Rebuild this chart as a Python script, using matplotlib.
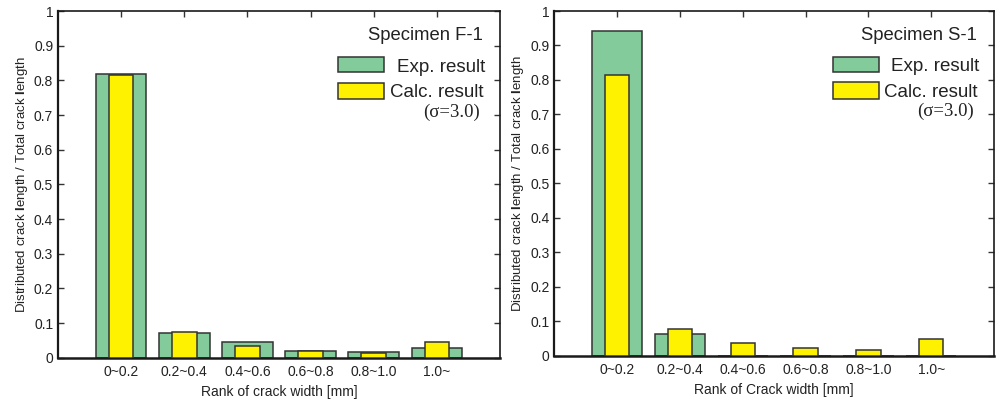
import matplotlib
matplotlib.use("Agg")
import matplotlib.pyplot as plt
from matplotlib.patches import Rectangle

plt.rcParams['font.family'] = ['Liberation Sans', 'DejaVu Sans']
plt.rcParams['mathtext.fontset'] = 'custom'
plt.rcParams['mathtext.rm'] = 'Liberation Sans'
plt.rcParams['mathtext.bf'] = 'Liberation Sans:bold'

categories = ['0~0.2', '0.2~0.4', '0.4~0.6', '0.6~0.8', '0.8~1.0', '1.0~']
exp_f1 = [0.817, 0.072, 0.046, 0.019, 0.017, 0.029]
calc_f1 = [0.816, 0.075, 0.035, 0.018, 0.013, 0.045]
exp_s1 = [0.941, 0.062, 0.0, 0.0, 0.0, 0.0]
calc_s1 = [0.815, 0.077, 0.037, 0.021, 0.016, 0.048]
ytick_vals = [0, 0.1, 0.2, 0.3, 0.4, 0.5, 0.6, 0.7, 0.8, 0.9, 1.0]
ytick_labels = ['0', '0.1', '0.2', '0.3', '0.4', '0.5', '0.6', '0.7', '0.8', '0.9', '1']

GREEN = '#84CB9C'
YELLOW = '#FFF200'
EDGE = '#333333'

fig = plt.figure(figsize=(9.97, 4.03), dpi=100)
ax1 = fig.add_axes([0.0582, 0.1124, 0.4433, 0.8603])
ax2 = fig.add_axes([0.556, 0.1174, 0.441, 0.8553])

ylabel = r'Distributed crack $\mathbf{l}$ength / Total crack $\mathbf{l}$ength'

def panel(ax, exp, calc, spec, xlabel):
    x = list(range(1, len(categories) + 1))
    ax.bar(x, exp, width=0.8, color=GREEN, edgecolor=EDGE, linewidth=1.1, zorder=2)
    ax.bar(x, calc, width=0.39, color=YELLOW, edgecolor=EDGE, linewidth=1.1, zorder=3)
    ax.set_xlim(0, 7)
    ax.set_ylim(0, 1)
    ax.set_xticks(x)
    ax.set_xticklabels(categories, fontsize=10, color='#222222')
    ax.set_yticks(ytick_vals)
    ax.set_yticklabels(ytick_labels, fontsize=10, color='#222222')
    ax.tick_params(axis='both', direction='in', length=4, width=1.0,
                   top=True, right=True, color='#333333')
    ax.tick_params(axis='x', pad=5)
    ax.tick_params(axis='y', pad=3.5)
    for s in ax.spines.values():
        s.set_linewidth(1.2)
        s.set_color('#1a1a1a')
    ax.spines['left'].set_linewidth(1.6)
    ax.spines['bottom'].set_linewidth(1.8)
    ax.set_xlabel(xlabel, fontsize=10, labelpad=4.5, color='#222222')
    ax.set_ylabel(ylabel, fontsize=9.5, labelpad=3, color='#222222')
    # legend block
    ax.text(0.962, 0.916, spec, transform=ax.transAxes, ha='right', va='baseline',
            fontsize=13.3, color='#222222')
    ax.add_patch(Rectangle((0.633, 0.823), 0.105, 0.045, transform=ax.transAxes,
                           facecolor=GREEN, edgecolor=EDGE, linewidth=1.1, zorder=4))
    ax.add_patch(Rectangle((0.633, 0.746), 0.105, 0.047, transform=ax.transAxes,
                           facecolor=YELLOW, edgecolor=EDGE, linewidth=1.1, zorder=4))
    ax.text(0.966, 0.825, 'Exp. result', transform=ax.transAxes, ha='right', va='baseline',
            fontsize=13.5, color='#222222')
    ax.text(0.962, 0.751, 'Calc. result', transform=ax.transAxes, ha='right', va='baseline',
            fontsize=13.5, color='#222222')
    ax.text(0.955, 0.695, '(σ=3.0)', transform=ax.transAxes, ha='right', va='baseline',
            fontsize=13.5, family=['Liberation Serif', 'DejaVu Serif'], color='#222222')

panel(ax1, exp_f1, calc_f1, 'Specimen F-1', 'Rank of crack width [mm]')
panel(ax2, exp_s1, calc_s1, 'Specimen S-1', 'Rank of Crack width [mm]')

fig.savefig('out.png', dpi=100)
